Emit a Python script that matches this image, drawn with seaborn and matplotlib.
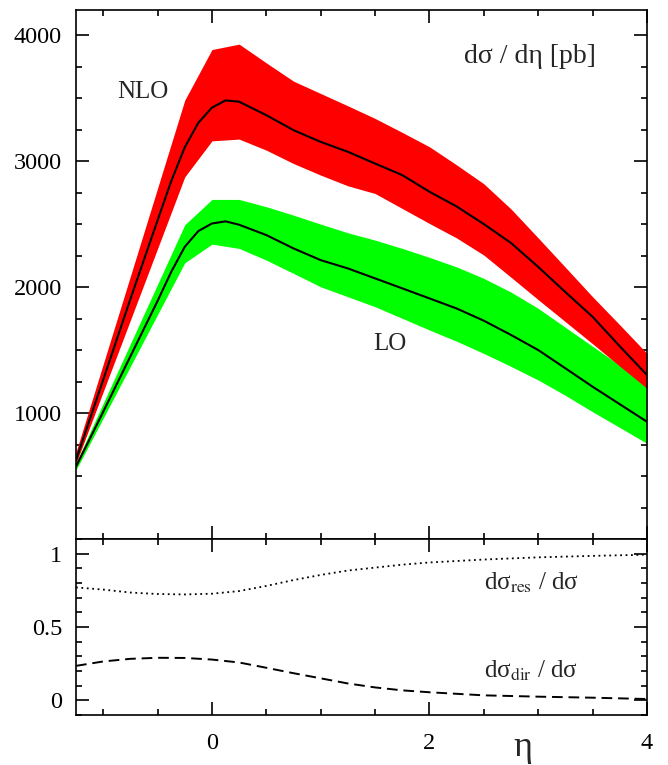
import matplotlib
matplotlib.use("Agg")
import matplotlib.pyplot as plt
import seaborn as sns
from matplotlib.ticker import MultipleLocator

# ---------------- data ----------------
eta_band = [-1.25, -1.0, -0.75, -0.5, -0.25, 0.0, 0.25, 0.5, 0.75, 1.0, 1.25,
            1.5, 1.75, 2.0, 2.25, 2.5, 2.75, 3.0, 3.25, 3.5, 3.75, 4.0]
nlo_upper = [690, 1388, 2086, 2785, 3484, 3886, 3929, 3780, 3635, 3537, 3439,
             3339, 3228, 3114, 2970, 2820, 2620, 2390, 2157, 1923, 1700, 1473]
nlo_lower = [600, 1169, 1737, 2306, 2875, 3161, 3175, 3087, 2981, 2889, 2804,
             2743, 2624, 2505, 2390, 2254, 2078, 1900, 1725, 1550, 1372, 1196]
lo_upper = [605, 1077, 1550, 2022, 2495, 2696, 2696, 2638, 2571, 2500, 2431,
            2373, 2307, 2236, 2160, 2069, 1960, 1831, 1680, 1530, 1380, 1222]
lo_lower = [548, 959, 1370, 1782, 2193, 2341, 2307, 2214, 2109, 2002, 1923,
            1844, 1752, 1659, 1570, 1473, 1370, 1262, 1140, 1010, 885, 759]

eta_line = [-1.25, -1.0, -0.75, -0.5, -0.375, -0.25, -0.125, 0.0, 0.125, 0.25, 0.5, 0.75,
            1.0, 1.25, 1.5, 1.75, 2.0, 2.25, 2.5, 2.75, 3.0, 3.25, 3.5, 3.75, 4.0]
nlo_central = [627, 1264, 1905, 2530, 2840, 3110, 3305, 3425, 3482, 3472, 3365, 3246,
               3153, 3074, 2981, 2889, 2757, 2640, 2500, 2350, 2160, 1960, 1764, 1530, 1302]
lo_central = [575, 1010, 1450, 1890, 2120, 2320, 2445, 2505, 2522, 2495, 2413, 2307,
              2214, 2148, 2069, 1990, 1910, 1830, 1733, 1620, 1500, 1355, 1209, 1070, 931]

eta_ratio = [-1.25, -1.0, -0.75, -0.5, -0.25, 0.0, 0.25, 0.5, 0.75, 1.0, 1.25,
             1.5, 1.75, 2.0, 2.5, 3.0, 3.5, 4.0]
ratio_res = [0.77, 0.755, 0.735, 0.725, 0.722, 0.727, 0.745, 0.78, 0.82, 0.855, 0.885,
             0.905, 0.925, 0.94, 0.96, 0.975, 0.985, 0.993]
ratio_dir = [0.235, 0.265, 0.283, 0.29, 0.289, 0.278, 0.258, 0.222, 0.185, 0.15, 0.115,
             0.088, 0.068, 0.055, 0.034, 0.025, 0.018, 0.009]

xticks_major = [0, 2, 4]
xticklabels = ["0", "2", "4"]
yticks_top = [1000, 2000, 3000, 4000]
yticks_bot = [0, 0.5, 1]
yticklabels_bot = ["0", "0.5", "1"]

# ---------------- style ----------------
sns.set_theme(style="ticks")
plt.rcParams["font.family"] = ["Liberation Serif", "DejaVu Serif"]
plt.rcParams["mathtext.fontset"] = "stix"
plt.rcParams["axes.linewidth"] = 1.2

fig = plt.figure(figsize=(6.68, 7.65), dpi=100)
L = 76 / 668
W = (647 - 76) / 668
ax1 = fig.add_axes([L, 1 - 539 / 765, W, (539 - 10) / 765])
ax2 = fig.add_axes([L, 1 - 715 / 765, W, (715 - 539) / 765])

TICK_FS = 17.5
TEXT_FS = 18

# ---------------- top panel ----------------
ax1.fill_between(eta_band, lo_lower, lo_upper, color="#00ff00", lw=0)
ax1.fill_between(eta_band, nlo_lower, nlo_upper, color="#ff0000", lw=0)
sns.lineplot(x=eta_line, y=nlo_central, ax=ax1, color="black", lw=1.5, estimator=None)
sns.lineplot(x=eta_line, y=lo_central, ax=ax1, color="black", lw=1.5, estimator=None)

ax1.set_xlim(-1.25, 4)
ax1.set_ylim(0, 4200)
ax1.set_xticks(xticks_major)
ax1.xaxis.set_minor_locator(MultipleLocator(0.5))
ax1.set_yticks(yticks_top)
ax1.yaxis.set_minor_locator(MultipleLocator(250))
ax1.tick_params(axis="both", which="both", direction="in", top=True, right=True,
                bottom=True, left=True, labelbottom=False, width=1.2, color="black")
ax1.tick_params(axis="both", which="major", length=9.5)
ax1.tick_params(axis="both", which="minor", length=4.5)
ax1.tick_params(axis="y", labelsize=TICK_FS, pad=10, labelcolor="black")

ax1.text(-0.64, 3552, "NLO", fontsize=TEXT_FS, ha="center", va="center")
ax1.text(1.64, 1551, "LO", fontsize=TEXT_FS, ha="center", va="center")
ax1.text(3.53, 3833, "dσ / dη [pb]", fontsize=20, ha="right", va="center")

# ---------------- bottom panel ----------------
sns.lineplot(x=eta_ratio, y=ratio_res, ax=ax2, color="black", lw=1.3,
             linestyle=(0, (1, 2)), estimator=None)
sns.lineplot(x=eta_ratio, y=ratio_dir, ax=ax2, color="black", lw=1.4,
             linestyle=(0, (5.5, 3)), estimator=None)

ax2.set_xlim(-1.25, 4)
ax2.set_ylim(-0.1, 1.1)
ax2.set_xticks(xticks_major)
ax2.set_xticklabels(xticklabels)
ax2.xaxis.set_minor_locator(MultipleLocator(0.5))
ax2.set_yticks(yticks_bot)
ax2.set_yticklabels(yticklabels_bot)
ax2.yaxis.set_minor_locator(MultipleLocator(0.1))
ax2.tick_params(axis="both", which="both", direction="in", top=True, right=True,
                bottom=True, left=True, width=1.2, color="black")
ax2.tick_params(axis="both", which="major", length=9.5)
ax2.tick_params(axis="both", which="minor", length=4.5)
ax2.tick_params(axis="y", labelsize=TICK_FS, pad=10, labelcolor="black")
ax2.tick_params(axis="x", labelsize=TICK_FS, pad=13, labelcolor="black")

ax2.text(2.505, 0.80, r"dσ$_{\rm res}$ / dσ", fontsize=TEXT_FS, ha="left", va="center")
ax2.text(2.505, 0.20, r"dσ$_{\rm dir}$ / dσ", fontsize=TEXT_FS, ha="left", va="center")

for ax in (ax1, ax2):
    for sp in ax.spines.values():
        sp.set_visible(True)
        sp.set_color("black")
        sp.set_linewidth(1.2)

fig.text(523 / 668, 1 - 748 / 765, "η", fontsize=26, ha="center", va="center")

fig.savefig("out.png", dpi=100, facecolor="white")
